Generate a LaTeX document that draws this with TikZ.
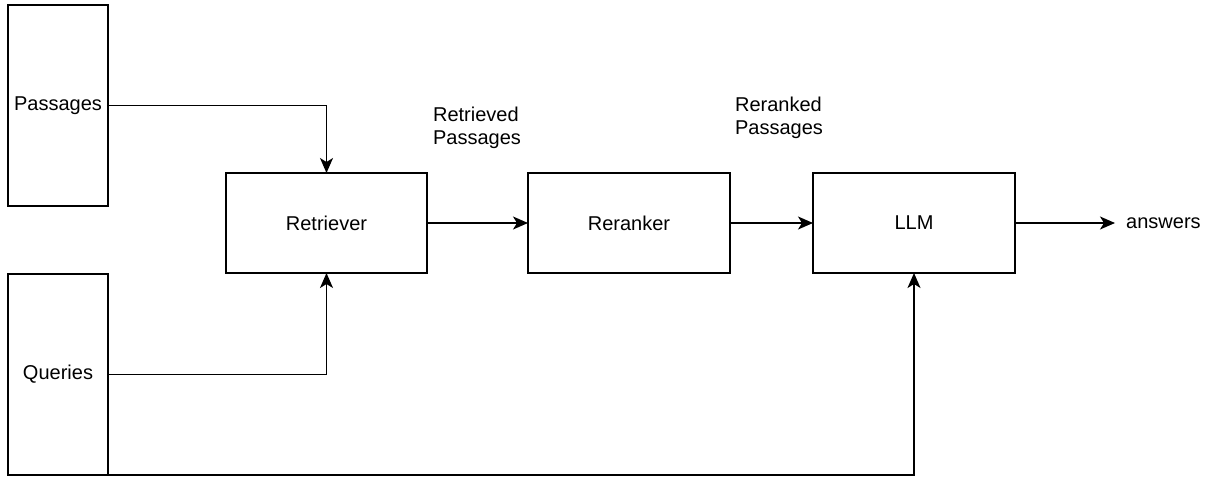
\documentclass[tikz,border=0pt]{standalone}
\usepackage{fontspec}
\setmainfont{Liberation Sans}
\usetikzlibrary{arrows.meta}
\begin{document}
\begin{tikzpicture}[x=1pt,y=-1pt,
  every node/.style={font=\fontsize{20}{23}\selectfont},
  box/.style={draw, line width=1.5pt, inner sep=0pt, outer sep=0pt, minimum width=#1},
  box/.default=100pt,
  conn/.style={line width=1.5pt, -{Stealth[length=15pt,width=13pt,inset=4pt]}},
  lbl/.style={align=left, inner sep=0pt}]
\useasboundingbox (0,0) rectangle (1210,477);
\fill[white] (0,0) rectangle (1210,477);
\node[box=100pt, minimum height=201pt] (pas) at (58,105.5) {Passages};
\node[box=100pt, minimum height=201pt] (qry) at (58,374.5) {Queries};
\node[box=201pt, minimum height=100pt] (ret) at (326.5,223) {Retriever};
\node[box=202pt, minimum height=100pt] (rer) at (629,223) {Reranker};
\node[box=202pt, minimum height=100pt] (llm) at (914,223) {LLM};
\node[anchor=west, inner xsep=11pt, inner ysep=0pt] (ans) at (1115,223) {answers};
\node[lbl] (rp) at (477,128) {Retrieved\\Passages};
\node[lbl] (rkp) at (779,118) {Reranked\\Passages};
\draw[conn] (pas.east) -| (ret.north);
\draw[conn] (qry.east) -| (ret.south);
\draw[conn] (qry.south east) -| (llm.south);
\draw[conn] (ret.east) -- (rer.west);
\draw[conn] (rer.east) -- (llm.west);
\draw[conn] (llm.east) -- (ans.west);
\end{tikzpicture}
\end{document}
